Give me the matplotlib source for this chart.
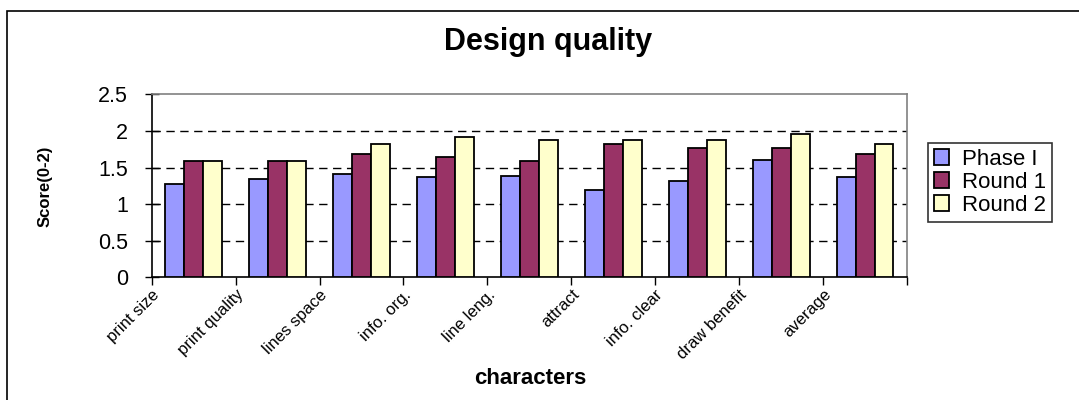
import matplotlib
matplotlib.use("Agg")
import matplotlib.pyplot as plt
import numpy as np

plt.rcParams['font.family'] = ['Liberation Sans', 'DejaVu Sans']

# data
categories = ['print size', 'print quality', 'lines space', 'info. org.', 'line leng.',
              'attract', 'info. clear', 'draw benefit', 'average']
phase1 = [1.27, 1.34, 1.41, 1.37, 1.39, 1.19, 1.32, 1.60, 1.37]
round1 = [1.59, 1.59, 1.68, 1.64, 1.59, 1.82, 1.77, 1.77, 1.68]
round2 = [1.59, 1.59, 1.82, 1.91, 1.87, 1.87, 1.87, 1.96, 1.82]
series = ['Phase I', 'Round 1', 'Round 2']
colors = ['#9999FF', '#993366', '#FFFFCC']

W, H = 1079, 400
fig = plt.figure(figsize=(W / 100, H / 100), dpi=100)

# outer chart border
fig.patches.append(plt.Rectangle((7 / W, -0.05), 1.2, 1 - 11 / H + 0.05,
                                 transform=fig.transFigure, fill=False,
                                 edgecolor='black', linewidth=1.2))

ax = fig.add_axes([151.7 / W, 1 - 277.3 / H, (907 - 151.7) / W, (277.3 - 94.3) / H])

x = np.arange(len(categories)) + 0.5
w = 0.226
for k, (vals, lab, c) in enumerate(zip([phase1, round1, round2], series, colors)):
    ax.bar(x + (k - 1) * w, vals, w, color=c, edgecolor='black', linewidth=1.3,
           label=lab, zorder=3)

ax.set_xlim(0, len(categories))
ax.set_ylim(0, 2.5)
ax.set_yticks([0, 0.5, 1, 1.5, 2, 2.5])
ax.set_yticklabels(['0', '0.5', '1', '1.5', '2', '2.5'], fontsize=15.5)
ax.set_xticks(np.arange(len(categories) + 1))
ax.set_xticklabels(categories + [''], rotation=45, ha='right',
                   rotation_mode='anchor', fontsize=12)
ax.tick_params(axis='x', direction='out', length=6, width=1, pad=1)
ax.tick_params(axis='y', direction='inout', length=10, width=1, pad=12)

for yv in [0.5, 1, 1.5, 2]:
    ax.axhline(yv, color='black', linestyle=(0, (6, 4)), linewidth=1, zorder=1)

for s in ['top', 'right']:
    ax.spines[s].set_color('#808080')
    ax.spines[s].set_linewidth(1.2)
for s in ['left', 'bottom']:
    ax.spines[s].set_color('black')
    ax.spines[s].set_linewidth(1.2)

fig.text(548 / W, 1 - 42 / H, 'Design quality', ha='center', va='center',
         fontsize=22, fontweight='bold')
fig.text(530 / W, 1 - 378 / H, 'characters', ha='center', va='center',
         fontsize=16, fontweight='bold')
fig.text(45 / W, 1 - 186 / H, 'Score(0-2)', ha='center', va='center',
         rotation=90, fontsize=12, fontweight='bold')

leg = ax.legend(loc='upper left', bbox_to_anchor=(928 / W, 1 - 143 / H),
                bbox_transform=fig.transFigure, fontsize=16, frameon=True,
                fancybox=False, edgecolor='black', handlelength=0.7,
                handleheight=0.7, handletextpad=0.6, borderpad=0.25,
                labelspacing=0.1, borderaxespad=0)
leg.get_frame().set_linewidth(1.2)

fig.savefig('out.png', dpi=100)
